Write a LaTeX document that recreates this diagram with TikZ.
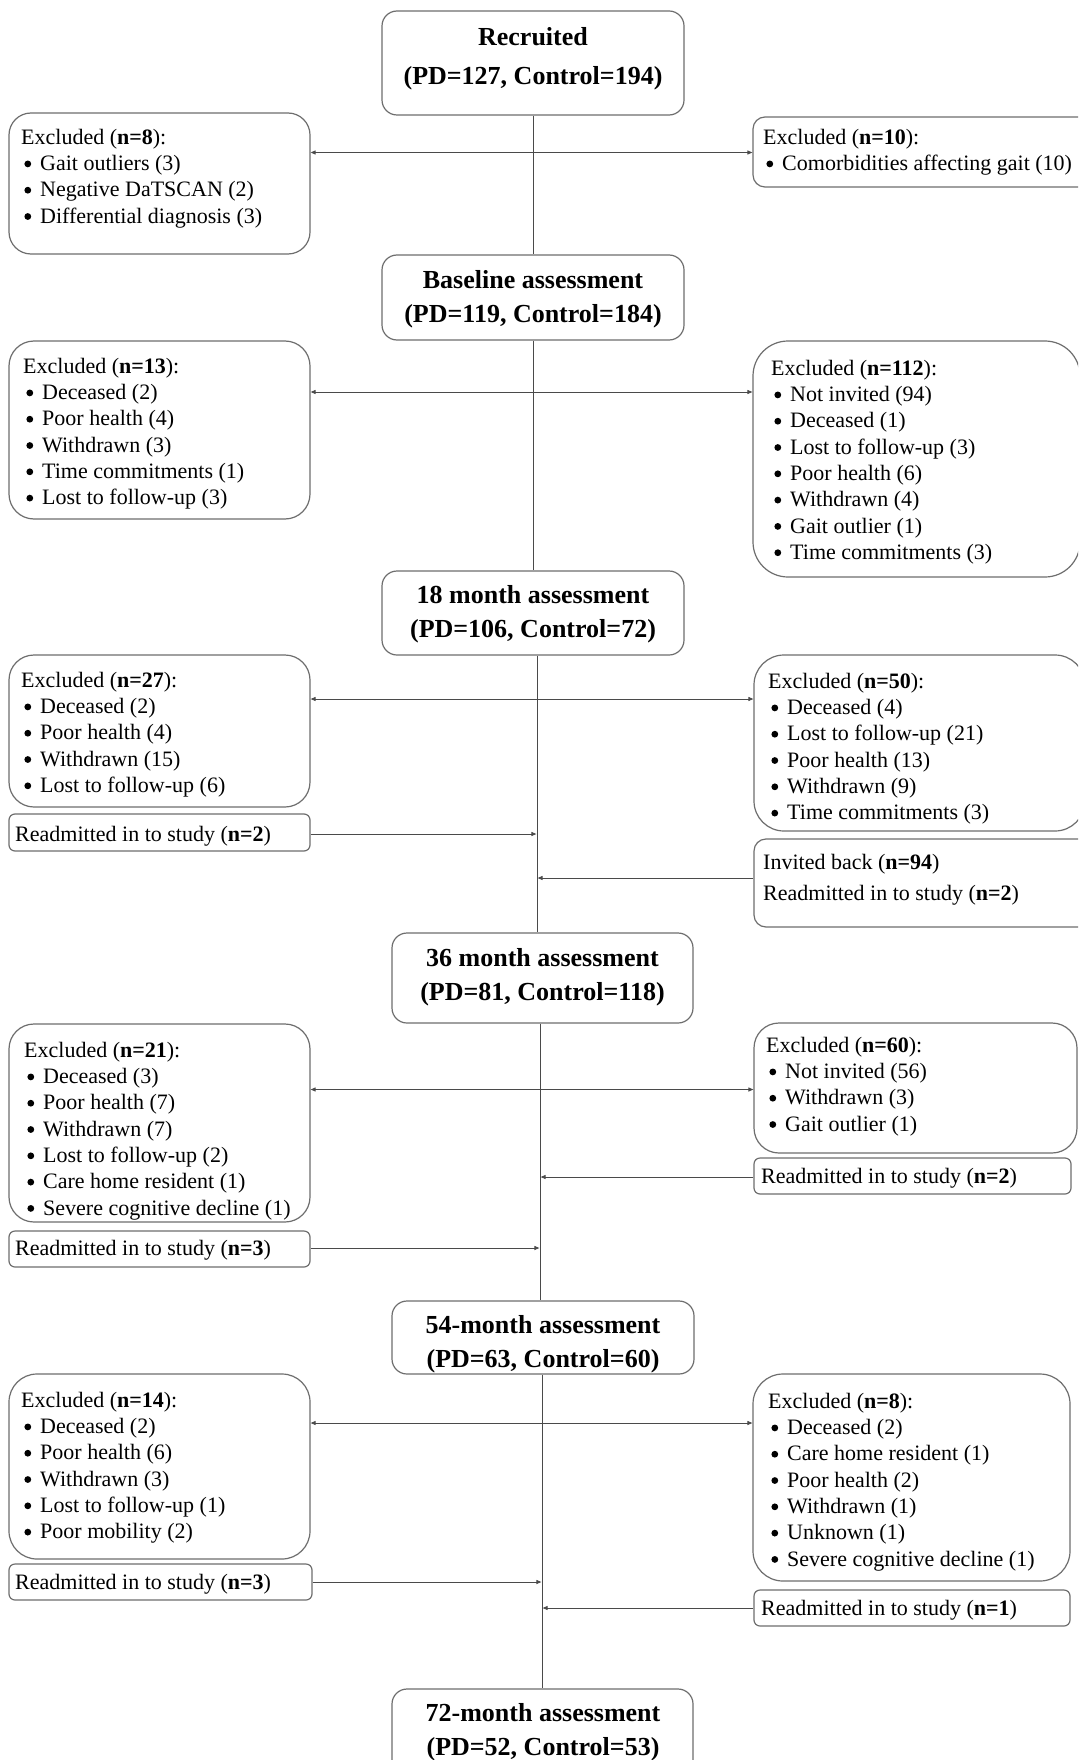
\documentclass[tikz,border=0pt]{standalone}
\usepackage{fontspec}
\setmainfont{Liberation Serif}
\usetikzlibrary{arrows.meta}

\definecolor{framegray}{HTML}{6E6E6E}
\definecolor{linegray}{HTML}{4A4A4A}

% round list marker, centred at mid cap height
\newcommand{\dotmark}{\tikz[baseline=0pt]\fill[black] (0pt,6.6pt) circle[radius=3.4pt];}
% bulleted entry inside a list box
\newcommand{\itm}[1]{\makebox[19pt][l]{\hspace*{3.2pt}\dotmark}#1}
% rounded frame: name, x1, y1, x2, y2, corner radius
\newcommand{\panel}[6]{%
  \node[frame, rounded corners=#6pt,
        minimum width={(#4-#2)*1pt}, minimum height={(#5-#3)*1pt}]
        (#1) at ({(#2+#4)/2},{(#3+#5)/2}) {};}

\begin{document}
\begin{tikzpicture}[x=1pt,y=-1pt,
  frame/.style={draw=framegray, line width=1.2pt, inner sep=0pt},
  lst/.style={anchor=north west, inner sep=0pt, align=left,
              font=\fontsize{22}{26.3}\selectfont},
  hd/.style={anchor=north, inner sep=0pt, align=center,
             font=\fontsize{26}{34}\selectfont\bfseries},
  conn/.style={draw=linegray, line width=0.9pt},
  dbl/.style={conn, {Triangle[length=5pt,width=4pt]}-{Triangle[length=5pt,width=4pt]}},
  one/.style={conn, -{Triangle[length=5pt,width=4pt]}}]

\useasboundingbox (0,0) rectangle (1078,1760);
\clip (0,0) rectangle (1078,1760);
\fill[white] (0,0) rectangle (1078,1760);

% ---------- main assessment boxes ----------
\panel{rec}{382}{11}{684}{115}{15}
\panel{base}{382}{255}{684}{340}{15}
\panel{m18}{382}{571}{684}{655}{15}
\panel{m36}{392}{933}{693}{1023}{15}
\panel{m54}{392}{1301}{694}{1374}{15}
\panel{m72}{392}{1689}{693}{1780}{15}

\node[hd, font=\fontsize{26}{39}\selectfont\bfseries] (rect) at (533,17.7)
  {\strut Recruited\\(PD=127, Control=194)};
\node[hd] (baset) at (533,264.2) {\strut Baseline assessment\\(PD=119, Control=184)};
\node[hd] (m18t) at (533,579.2) {\strut 18 month assessment\\(PD=106, Control=72)};
\node[hd] (m36t) at (542.5,942.7) {\strut 36 month assessment\\(PD=81, Control=118)};
\node[hd] (m54t) at (543,1309.2) {\strut 54-month assessment\\(PD=63, Control=60)};
\node[hd] (m72t) at (543,1697.7) {\strut 72-month assessment\\(PD=52, Control=53)};

% ---------- exclusion and readmission boxes ----------
\panel{L1}{9}{113}{310}{254}{22}
\panel{R1}{753}{117}{1110}{187}{12}
\panel{L2}{9}{341}{310}{519}{25}
\panel{R2}{753}{341}{1080}{577}{35}
\panel{L3}{9}{655}{310}{807}{25}
\panel{R3}{754}{655}{1085}{831}{30}
\panel{ra1}{9}{814}{310}{851}{6}
\panel{inv}{754}{839}{1100}{927}{12}
\panel{L4}{9}{1024}{310}{1222}{25}
\panel{R4}{754}{1023}{1077}{1153}{25}
\panel{rb36}{754}{1158}{1071}{1194}{6}
\panel{lb36}{9}{1231}{310}{1267}{6}
\panel{L5}{9}{1374}{310}{1559}{28}
\panel{R5}{753}{1374}{1070}{1581}{30}
\panel{lc54}{9}{1564}{312}{1600}{6}
\panel{rc54}{754}{1590}{1070}{1626}{6}

\node[lst] (L1t) at (21,125.6) {\strut Excluded (\textbf{n=8}):\\
  \itm{Gait outliers (3)}\\ \itm{Negative DaTSCAN (2)}\\ \itm{Differential diagnosis (3)}};
\node[lst] (R1t) at (763,125.6) {\strut Excluded (\textbf{n=10}):\\
  \itm{Comorbidities affecting gait (10)}};

\node[lst] (L2t) at (23,354.6) {\strut Excluded (\textbf{n=13}):\\
  \itm{Deceased (2)}\\ \itm{Poor health (4)}\\ \itm{Withdrawn (3)}\\
  \itm{Time commitments (1)}\\ \itm{Lost to follow-up (3)}};
\node[lst] (R2t) at (771,356.6) {\strut Excluded (\textbf{n=112}):\\
  \itm{Not invited (94)}\\ \itm{Deceased (1)}\\ \itm{Lost to follow-up (3)}\\
  \itm{Poor health (6)}\\ \itm{Withdrawn (4)}\\ \itm{Gait outlier (1)}\\
  \itm{Time commitments (3)}};

\node[lst] (L3t) at (21,668.6) {\strut Excluded (\textbf{n=27}):\\
  \itm{Deceased (2)}\\ \itm{Poor health (4)}\\ \itm{Withdrawn (15)}\\
  \itm{Lost to follow-up (6)}};
\node[lst] (R3t) at (768,669.6) {\strut Excluded (\textbf{n=50}):\\
  \itm{Deceased (4)}\\ \itm{Lost to follow-up (21)}\\ \itm{Poor health (13)}\\
  \itm{Withdrawn (9)}\\ \itm{Time commitments (3)}};

\node[lst] (ra1t) at (15,822.6) {\strut Readmitted in to study (\textbf{n=2})};
\node[lst, font=\fontsize{22}{31}\selectfont] (invt) at (763,847.3)
  {\strut Invited back (\textbf{n=94})\\Readmitted in to study (\textbf{n=2})};

\node[lst] (L4t) at (24,1038.6) {\strut Excluded (\textbf{n=21}):\\
  \itm{Deceased (3)}\\ \itm{Poor health (7)}\\ \itm{Withdrawn (7)}\\
  \itm{Lost to follow-up (2)}\\ \itm{Care home resident (1)}\\
  \itm{Severe cognitive decline (1)}};
\node[lst] (R4t) at (766,1033.6) {\strut Excluded (\textbf{n=60}):\\
  \itm{Not invited (56)}\\ \itm{Withdrawn (3)}\\ \itm{Gait outlier (1)}};

\node[lst] (rb36t) at (761,1164.6) {\strut Readmitted in to study (\textbf{n=2})};
\node[lst] (lb36t) at (15,1236.6) {\strut Readmitted in to study (\textbf{n=3})};

\node[lst] (L5t) at (21,1388.6) {\strut Excluded (\textbf{n=14}):\\
  \itm{Deceased (2)}\\ \itm{Poor health (6)}\\ \itm{Withdrawn (3)}\\
  \itm{Lost to follow-up (1)}\\ \itm{Poor mobility (2)}};
\node[lst] (R5t) at (768,1389.6) {\strut Excluded (\textbf{n=8}):\\
  \itm{Deceased (2)}\\ \itm{Care home resident (1)}\\ \itm{Poor health (2)}\\
  \itm{Withdrawn (1)}\\ \itm{Unknown (1)}\\ \itm{Severe cognitive decline (1)}};

\node[lst] (lc54t) at (15,1570.6) {\strut Readmitted in to study (\textbf{n=3})};
\node[lst] (rc54t) at (761,1596.6) {\strut Readmitted in to study (\textbf{n=1})};

% ---------- vertical flow line ----------
\coordinate (sp3) at (537,0);
\coordinate (sp4) at (540,0);
\coordinate (sp5) at (542,0);
\draw[conn] (rec.south) -- (base.north);
\draw[conn] (base.south) -- (m18.north);
\draw[conn] (m18.south -| sp3) -- (m36.north -| sp3);
\draw[conn] (m36.south -| sp4) -- (m54.north -| sp4);
\draw[conn] (m54.south -| sp5) -- (m72.north -| sp5);

% ---------- exclusions branching to both sides ----------
\coordinate (j1) at (533,152.5);
\coordinate (j2) at (533,392);
\coordinate (j3) at (537,699);
\coordinate (j4) at (540,1089.5);
\coordinate (j5) at (542,1423);
\draw[dbl] (L1.east |- j1) -- (R1.west |- j1);
\draw[dbl] (L2.east |- j2) -- (R2.west |- j2);
\draw[dbl] (L3.east |- j3) -- (R3.west |- j3);
\draw[dbl] (L4.east |- j4) -- (R4.west |- j4);
\draw[dbl] (L5.east |- j5) -- (R5.west |- j5);

% ---------- readmissions joining the flow ----------
\coordinate (k1) at (536.4,834);
\coordinate (k2) at (537.6,878);
\coordinate (k3) at (540.6,1177);
\coordinate (k4) at (539.4,1248);
\coordinate (k5) at (541.4,1582);
\coordinate (k6) at (542.6,1608);
\draw[one] (ra1.east |- k1) -- (k1);
\draw[one] (inv.west |- k2) -- (k2);
\draw[one] (rb36.west |- k3) -- (k3);
\draw[one] (lb36.east |- k4) -- (k4);
\draw[one] (lc54.east |- k5) -- (k5);
\draw[one] (rc54.west |- k6) -- (k6);

\end{tikzpicture}
\end{document}
